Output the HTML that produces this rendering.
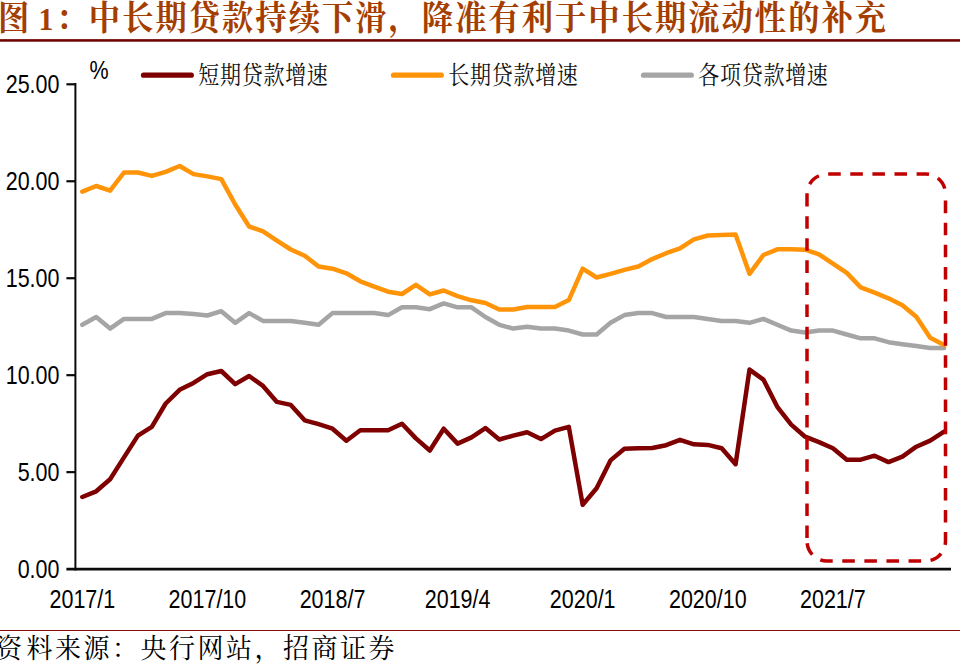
<!DOCTYPE html>
<html lang="zh"><head><meta charset="utf-8"><title>图1</title>
<style>
html,body{margin:0;padding:0;background:#fff;}
body{width:960px;height:665px;overflow:hidden;font-family:"Liberation Sans",sans-serif;}
svg{display:block;}
</style></head><body>
<svg width="960" height="665" viewBox="0 0 960 665">
<g fill="#A43E00" font-family="'Liberation Serif', 'Noto Serif CJK SC', serif" font-weight="bold" font-size="31.3">
<text transform="translate(0,30) scale(1,1.073)" y="0" x="-1.95 56 88.85 122.15 155.45 188.75 222.05 255.35 288.65 321.95 355.25 388.55 421.85 455.15 488.45 521.75 555.05 588.35 621.65 654.95 688.25 721.55 754.85 788.15 821.45 854.75">图：中长期贷款持续下滑，降准有利于中长期流动性的补充</text>
</g>
<text x="0" y="0" transform="translate(38.5,29.75) scale(1.08,1.16)" font-family="'Liberation Serif', serif" font-weight="bold" font-size="27.5" fill="#A43E00">1</text>
<rect x="0" y="39.15" width="960" height="2.55" fill="#6E0000"/>
<rect x="0" y="630" width="960" height="1" fill="#860A0E"/>
<g stroke="#0a0a0a" fill="none">
<line x1="75.4" y1="83.00" x2="75.4" y2="570.40" stroke-width="2.0"/>
<line x1="66.4" y1="569.1" x2="951" y2="569.1" stroke-width="2.6"/>
<line x1="66.4" y1="472.14" x2="75.4" y2="472.14" stroke-width="2.2"/>
<line x1="66.4" y1="375.18" x2="75.4" y2="375.18" stroke-width="2.2"/>
<line x1="66.4" y1="278.22" x2="75.4" y2="278.22" stroke-width="2.2"/>
<line x1="66.4" y1="181.26" x2="75.4" y2="181.26" stroke-width="2.2"/>
<line x1="66.4" y1="84.30" x2="75.4" y2="84.30" stroke-width="2.2"/>
</g>
<g font-family="'Liberation Sans', sans-serif" font-size="21.5" fill="#000">
<text text-anchor="end" transform="translate(59.5,578.05) scale(1.0,1.19)">0.00</text>
<text text-anchor="end" transform="translate(59.5,481.09) scale(1.0,1.19)">5.00</text>
<text text-anchor="end" transform="translate(59.5,384.13) scale(1.0,1.19)">10.00</text>
<text text-anchor="end" transform="translate(59.5,287.17) scale(1.0,1.19)">15.00</text>
<text text-anchor="end" transform="translate(59.5,190.21) scale(1.0,1.19)">20.00</text>
<text text-anchor="end" transform="translate(59.5,93.25) scale(1.0,1.19)">25.00</text>
<text text-anchor="middle" transform="translate(82.35,608.0) scale(1.0,1.19)">2017/1</text>
<text text-anchor="middle" transform="translate(207.43,608.0) scale(1.0,1.19)">2017/10</text>
<text text-anchor="middle" transform="translate(332.52,608.0) scale(1.0,1.19)">2018/7</text>
<text text-anchor="middle" transform="translate(457.61,608.0) scale(1.0,1.19)">2019/4</text>
<text text-anchor="middle" transform="translate(582.69,608.0) scale(1.0,1.19)">2020/1</text>
<text text-anchor="middle" transform="translate(707.78,608.0) scale(1.0,1.19)">2020/10</text>
<text text-anchor="middle" transform="translate(832.86,608.0) scale(1.0,1.19)">2021/7</text>
<text transform="translate(89.5,79.0) scale(1.0,1.19)">%</text>
</g>
<polyline points="82.3,324.8 96.2,317.0 110.1,328.6 124.0,318.9 137.9,318.9 151.8,318.9 165.7,313.1 179.6,313.1 193.5,314.1 207.4,315.5 221.3,311.2 235.2,322.8 249.1,313.1 263.0,320.9 276.9,320.9 290.8,320.9 304.7,322.8 318.6,324.8 332.5,313.1 346.4,313.1 360.3,313.1 374.2,313.1 388.1,315.1 402.0,307.3 415.9,307.3 429.8,309.2 443.7,303.4 457.6,307.3 471.5,307.3 485.4,317.0 499.3,324.8 513.2,328.6 527.1,326.7 541.0,328.6 554.9,328.6 568.8,330.6 582.7,334.5 596.6,334.5 610.5,322.8 624.4,315.1 638.3,313.1 652.2,313.1 666.1,317.0 680.0,317.0 693.9,317.0 707.8,318.9 721.7,320.9 735.6,320.9 749.5,322.8 763.4,318.9 777.3,324.8 791.2,330.6 805.1,332.5 819.0,330.6 832.9,330.6 846.8,334.5 860.7,338.3 874.6,338.3 888.5,342.2 902.4,344.2 916.3,346.1 930.2,348.0 944.1,348.0" fill="none" stroke="#A5A5A5" stroke-width="4.5" stroke-linejoin="round" stroke-linecap="round"/>
<polyline points="82.3,191.7 96.2,186.0 110.1,190.6 124.0,172.5 137.9,172.5 151.8,175.9 165.7,171.8 179.6,166.0 193.5,174.1 207.4,176.4 221.3,179.1 235.2,204.5 249.1,226.5 263.0,231.3 276.9,240.6 290.8,249.5 304.7,255.7 318.6,266.5 332.5,268.7 346.4,273.3 360.3,281.3 374.2,286.6 388.1,291.7 402.0,294.0 415.9,284.8 429.8,294.4 443.7,290.5 457.6,296.2 471.5,300.3 485.4,303.0 499.3,309.5 513.2,309.5 527.1,307.0 541.0,307.0 554.9,307.0 568.8,300.1 582.7,268.7 596.6,277.5 610.5,273.8 624.4,269.9 638.3,266.5 652.2,259.1 666.1,253.2 680.0,248.3 693.9,239.3 707.8,235.5 721.7,235.1 735.6,234.4 749.5,273.8 763.4,255.0 777.3,249.3 791.2,249.3 805.1,249.7 819.0,254.3 832.9,263.7 846.8,272.9 860.7,287.4 874.6,292.7 888.5,298.3 902.4,305.2 916.3,316.7 930.2,337.7 944.1,345.1" fill="none" stroke="#FF9409" stroke-width="4.5" stroke-linejoin="round" stroke-linecap="round"/>
<polyline points="82.3,497.0 96.2,491.3 110.1,479.2 124.0,457.4 137.9,435.6 151.8,426.9 165.7,403.5 179.6,389.8 193.5,382.9 207.4,374.2 221.3,371.0 235.2,384.1 249.1,376.0 263.0,385.9 276.9,401.9 290.8,404.9 304.7,420.3 318.6,424.2 332.5,428.7 346.4,440.7 360.3,430.3 374.2,430.3 388.1,430.3 402.0,423.7 415.9,438.4 429.8,450.5 443.7,428.7 457.6,443.6 471.5,437.4 485.4,428.1 499.3,439.5 513.2,435.6 527.1,432.2 541.0,439.1 554.9,430.6 568.8,426.9 582.7,504.8 596.6,488.3 610.5,460.4 624.4,448.7 638.3,448.2 652.2,448.0 666.1,445.2 680.0,439.8 693.9,444.3 707.8,444.9 721.7,448.2 735.6,464.2 749.5,369.6 763.4,379.6 777.3,406.8 791.2,424.6 805.1,436.7 819.0,442.1 832.9,448.2 846.8,459.7 860.7,459.7 874.6,455.7 888.5,462.1 902.4,456.6 916.3,446.7 930.2,440.6 944.1,431.6" fill="none" stroke="#7F0000" stroke-width="4.5" stroke-linejoin="round" stroke-linecap="round"/>
<line x1="143.5" y1="75.2" x2="191.3" y2="75.2" stroke="#7F0000" stroke-width="5.2" stroke-linecap="round"/>
<g fill="#111" font-family="'Liberation Serif', 'Noto Serif CJK SC', serif" font-size="21">
<text transform="translate(0,84.10) scale(1,1.19)" y="0" x="198.35 220.05 241.75 263.45 285.15 306.85">短期贷款增速</text>
</g>
<line x1="393.5" y1="75.2" x2="441.3" y2="75.2" stroke="#FF9409" stroke-width="5.2" stroke-linecap="round"/>
<g fill="#111" font-family="'Liberation Serif', 'Noto Serif CJK SC', serif" font-size="21">
<text transform="translate(0,84.10) scale(1,1.19)" y="0" x="448.35 470.05 491.75 513.45 535.15 556.85">长期贷款增速</text>
</g>
<line x1="643.5" y1="75.2" x2="691.3" y2="75.2" stroke="#A5A5A5" stroke-width="5.2" stroke-linecap="round"/>
<g fill="#111" font-family="'Liberation Serif', 'Noto Serif CJK SC', serif" font-size="21">
<text transform="translate(0,84.10) scale(1,1.19)" y="0" x="698.35 720.05 741.75 763.45 785.15 806.85">各项贷款增速</text>
</g>
<g fill="none" stroke="#C00000" stroke-width="3.5" stroke-dasharray="12.55 9.55">
<path d="M807 194A20 20 0 0 1 827 174H925.5A20 20 0 0 1 945.5 194" stroke-dashoffset="-10.3"/>
<path d="M945.5 194V541" stroke-dashoffset="-6.6"/>
<path d="M945.5 541A20 20 0 0 1 925.5 561H827A20 20 0 0 1 807 541" stroke-dashoffset="-13.5"/>
<path d="M807 541V194" stroke-dashoffset="-2.9"/>
</g>
<g fill="#000" font-family="'Liberation Serif', 'Noto Serif CJK SC', serif" font-size="26">
<text transform="translate(0,658) scale(1,1.06)" y="0" x="-4 26.51 55.02 83.53 112.04 140.55 169.06 197.57 226.08 254.59 283.10 311.61 340.12 368.63">资料来源：央行网站，招商证券</text>
</g>
</svg>
</body></html>
